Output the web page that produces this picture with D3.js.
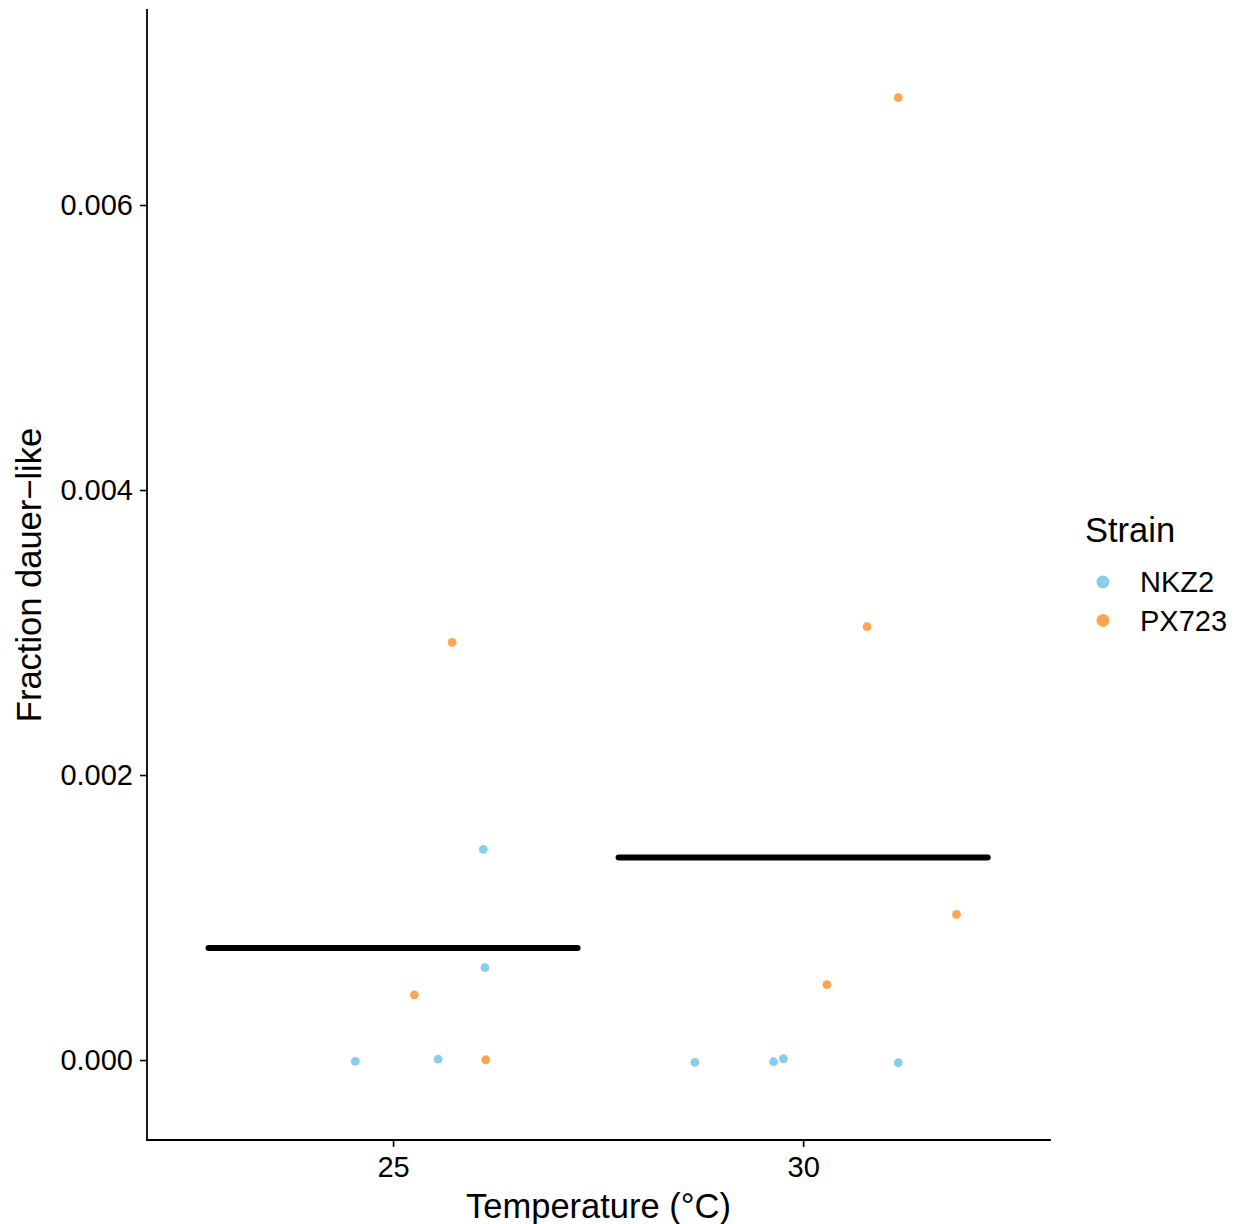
<!DOCTYPE html>
<html>
<head>
<meta charset="utf-8">
<script src="https://cdn.jsdelivr.net/npm/d3@7"></script>
<style>
  html, body { margin: 0; padding: 0; background: #fff; }
  svg text { font-family: "Liberation Sans", Arial, Helvetica, sans-serif; fill: #000; }
</style>
</head>
<body>
<svg id="chart" width="1236" height="1224"></svg>
<script>
// ---- data (x is jittered temperature) ----
const strains = ["NKZ2", "PX723"];
const strainColors = ["#87CEEB", "#FFA54F"];

const nkz2X = [26.10, 26.12, 24.54, 25.55, 28.68, 29.64, 29.76, 31.16];
const nkz2Y = [0.001479, 0.000648, -0.000009, 0.000007, -0.000016, -0.000012, 0.000009, -0.000019];

const px723X = [25.26, 26.13, 25.72, 30.29, 31.87, 31.16, 30.78];
const px723Y = [0.000458, 0.000002, 0.002931, 0.000529, 0.001022, 0.006753, 0.003041];

const temperatures = [25, 30];
const meanFraction = [0.000786, 0.001422];
const meanHalfWidth = 2.25;

const xTicks = [25, 30];
const yTicks = [0, 0.002, 0.004, 0.006];
const xTitle = "Temperature (°C)";
const yTitle = "Fraction dauer\u2212like";
const legendTitle = "Strain";

// ---- layout ----
const svg = d3.select("#chart");
const panel = { left: 147, right: 1050, top: 10, bottom: 1140 };

const x = d3.scaleLinear().domain([22.0, 33.01]).range([panel.left, panel.right]);
const y = d3.scaleLinear().domain([-0.000561, 0.0073684]).range([panel.bottom, panel.top]);

const points = [];
nkz2X.forEach((v, i) => points.push({ x: v, y: nkz2Y[i], s: 0 }));
px723X.forEach((v, i) => points.push({ x: v, y: px723Y[i], s: 1 }));

// points
svg.append("g").selectAll("circle")
  .data(points).enter().append("circle")
  .attr("cx", d => x(d.x))
  .attr("cy", d => y(d.y))
  .attr("r", 4.4)
  .attr("fill", d => strainColors[d.s]);

// mean lines
svg.append("g").selectAll("line")
  .data(temperatures).enter().append("line")
  .attr("x1", (d) => x(d - meanHalfWidth))
  .attr("x2", (d) => x(d + meanHalfWidth))
  .attr("y1", (d, i) => y(meanFraction[i]))
  .attr("y2", (d, i) => y(meanFraction[i]))
  .attr("stroke", "#000")
  .attr("stroke-width", 6)
  .attr("stroke-linecap", "round");

// axes
const xAxis = d3.axisBottom(x).tickValues(xTicks).tickSize(7).tickPadding(9).tickFormat(d3.format("d"));
const yAxis = d3.axisLeft(y).tickValues(yTicks).tickSize(7).tickPadding(7).tickFormat(d3.format(".3f"));

const gx = svg.append("g").attr("transform", `translate(0,${panel.bottom})`).call(xAxis);
const gy = svg.append("g").attr("transform", `translate(${panel.left},0)`).call(yAxis);

[gx, gy].forEach(g => {
  g.select(".domain").remove();
  g.selectAll(".tick line").attr("stroke", "#000").attr("stroke-width", 1.6);
  g.selectAll(".tick text").attr("font-size", 29).attr("fill", "#000")
    .attr("font-family", '"Liberation Sans", Arial, sans-serif');
});

// axis lines
svg.append("line").attr("x1", panel.left).attr("x2", panel.right)
  .attr("y1", panel.bottom).attr("y2", panel.bottom)
  .attr("stroke", "#000").attr("stroke-width", 1.8).attr("stroke-linecap", "square");
svg.append("line").attr("x1", panel.left).attr("x2", panel.left)
  .attr("y1", panel.top).attr("y2", panel.bottom)
  .attr("stroke", "#000").attr("stroke-width", 1.8).attr("stroke-linecap", "square");

// axis titles
svg.append("text")
  .attr("x", (panel.left + panel.right) / 2)
  .attr("y", 1218)
  .attr("text-anchor", "middle")
  .attr("font-size", 34.5)
  .text(xTitle);

svg.append("text")
  .attr("transform", `translate(41,${(panel.top + panel.bottom) / 2}) rotate(-90)`)
  .attr("text-anchor", "middle")
  .attr("font-size", 34.5)
  .text(yTitle);

// legend
const lg = svg.append("g");
lg.append("text").attr("x", 1085).attr("y", 542).attr("font-size", 34.5).text(legendTitle);
strains.forEach((s, i) => {
  const cy = 582 + i * 38.5;
  lg.append("circle").attr("cx", 1103).attr("cy", cy).attr("r", 6.5).attr("fill", strainColors[i]);
  lg.append("text").attr("x", 1140).attr("y", cy + 10.4).attr("font-size", 29).text(s);
});
</script>
</body>
</html>
